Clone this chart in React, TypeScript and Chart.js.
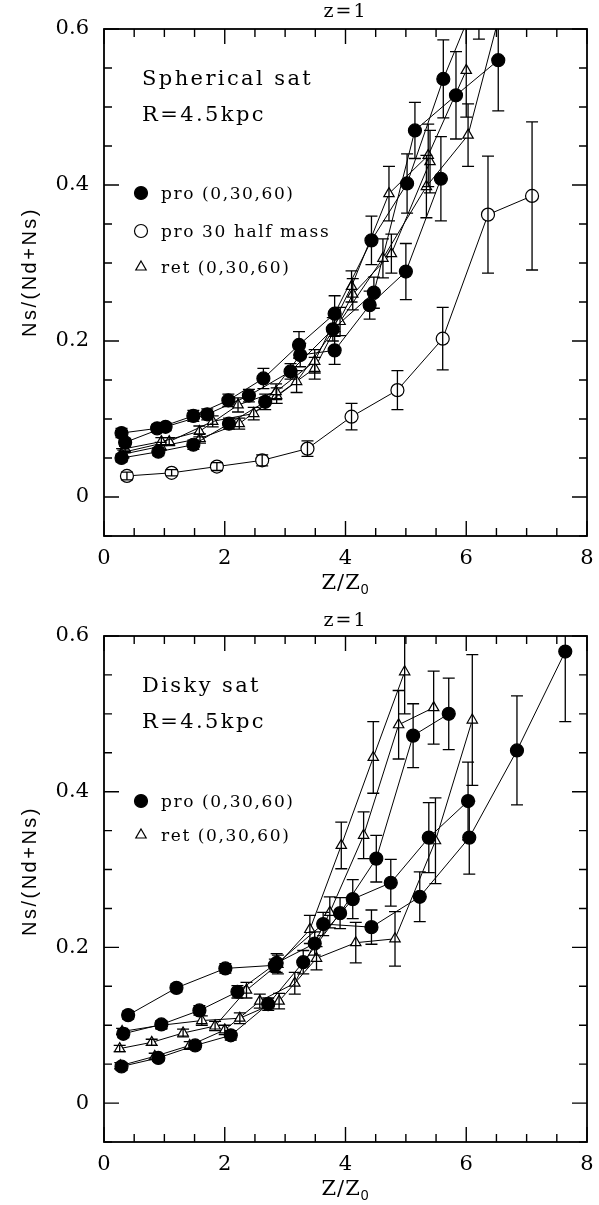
import React, { useEffect, useRef } from 'react';
import { Chart, registerables } from 'chart.js';
Chart.register(...registerables);

// ---------- axis definitions ----------
const X_MIN = 0;
const X_MAX = 8;
const Y_MIN = -0.05;
const Y_MAX = 0.6;
const X_TICKS = [0, 2, 4, 6, 8];
const Y_TICKS = [0, 0.2, 0.4, 0.6];
const X_MINOR = 0.5;
const Y_MINOR = 0.05;

// ---------- top panel: spherical satellite ----------
const sphProA_x = [0.29, 0.88, 1.48, 2.06, 2.64, 3.23, 3.82, 4.43, 5.02, 5.62, 6.21];
const sphProA_y = [0.082, 0.088, 0.104, 0.124, 0.152, 0.195, 0.235, 0.329, 0.402, 0.536, 0.647];
const sphProA_e = [0.006, 0.005, 0.007, 0.008, 0.013, 0.017, 0.023, 0.031, 0.038, 0.05, 0.06];

const sphProB_x = [0.35, 1.02, 1.71, 2.4, 3.09, 3.79, 4.47, 5.15, 5.83, 6.53];
const sphProB_y = [0.07, 0.09, 0.106, 0.13, 0.161, 0.215, 0.262, 0.47, 0.515, 0.56];
const sphProB_e = [0.005, 0.005, 0.007, 0.008, 0.01, 0.015, 0.02, 0.036, 0.056, 0.065];

const sphProC_x = [0.29, 0.9, 1.48, 2.07, 2.67, 3.25, 3.82, 4.4, 5.0, 5.58];
const sphProC_y = [0.05, 0.058, 0.067, 0.094, 0.122, 0.182, 0.188, 0.246, 0.289, 0.408];
const sphProC_e = [0.005, 0.005, 0.006, 0.007, 0.01, 0.015, 0.018, 0.018, 0.036, 0.054];

const sphHalf_x = [0.38, 1.12, 1.87, 2.62, 3.37, 4.1, 4.86, 5.61, 6.36, 7.09];
const sphHalf_y = [0.027, 0.031, 0.039, 0.047, 0.062, 0.103, 0.137, 0.203, 0.362, 0.386];
const sphHalf_e = [0.005, 0.004, 0.005, 0.007, 0.01, 0.017, 0.025, 0.04, 0.075, 0.095];

const sphRetA_x = [0.35, 0.95, 1.58, 2.22, 2.85, 3.49, 4.1, 4.72, 5.37, 6.0];
const sphRetA_y = [0.062, 0.071, 0.084, 0.118, 0.135, 0.174, 0.27, 0.389, 0.438, 0.547];
const sphRetA_e = [0.005, 0.005, 0.007, 0.009, 0.01, 0.015, 0.02, 0.035, 0.04, 0.06];

const sphRetB_x = [0.3, 1.08, 1.8, 2.48, 3.19, 3.91, 4.62, 5.34, 6.03, 6.75];
const sphRetB_y = [0.057, 0.071, 0.097, 0.107, 0.148, 0.225, 0.306, 0.398, 0.464, 0.677];
const sphRetB_e = [0.005, 0.005, 0.007, 0.008, 0.014, 0.018, 0.025, 0.04, 0.04, 0.07];

const sphRetC_x = [0.32, 0.94, 1.59, 2.24, 2.86, 3.49, 4.12, 4.76, 5.4];
const sphRetC_y = [0.055, 0.065, 0.075, 0.094, 0.13, 0.165, 0.26, 0.312, 0.43];
const sphRetC_e = [0.005, 0.005, 0.006, 0.007, 0.01, 0.014, 0.02, 0.025, 0.04];

// ---------- bottom panel: disky satellite ----------
const dskProA_x = [0.4, 1.2, 2.01, 2.83, 3.63, 4.43, 5.23, 6.05, 6.84, 7.64];
const dskProA_y = [0.113, 0.148, 0.173, 0.177, 0.23, 0.226, 0.265, 0.341, 0.453, 0.58];
const dskProA_e = [0.005, 0.005, 0.006, 0.008, 0.015, 0.022, 0.032, 0.047, 0.07, 0.09];

const dskProB_x = [0.32, 0.95, 1.58, 2.21, 2.86, 3.49, 4.12, 4.75, 5.38, 6.03];
const dskProB_y = [0.089, 0.101, 0.119, 0.143, 0.18, 0.205, 0.262, 0.283, 0.341, 0.388];
const dskProB_e = [0.005, 0.005, 0.006, 0.008, 0.012, 0.015, 0.025, 0.03, 0.045, 0.05];

const dskProC_x = [0.29, 0.9, 1.51, 2.1, 2.72, 3.3, 3.91, 4.51, 5.12, 5.71];
const dskProC_y = [0.047, 0.058, 0.074, 0.087, 0.127, 0.181, 0.244, 0.314, 0.472, 0.5];
const dskProC_e = [0.005, 0.004, 0.005, 0.006, 0.008, 0.015, 0.02, 0.03, 0.041, 0.046];

const dskRetA_x = [0.26, 0.79, 1.31, 1.84, 2.36, 2.88, 3.41, 3.93, 4.46, 4.98];
const dskRetA_y = [0.07, 0.078, 0.09, 0.099, 0.145, 0.178, 0.223, 0.331, 0.444, 0.554];
const dskRetA_e = [0.004, 0.004, 0.005, 0.006, 0.01, 0.012, 0.018, 0.03, 0.046, 0.054];

const dskRetB_x = [0.3, 0.95, 1.62, 2.25, 2.9, 3.52, 4.17, 4.82, 5.49, 6.1];
const dskRetB_y = [0.092, 0.1, 0.106, 0.109, 0.131, 0.186, 0.206, 0.211, 0.337, 0.492];
const dskRetB_e = [0.004, 0.005, 0.006, 0.007, 0.01, 0.015, 0.026, 0.035, 0.055, 0.084];

const dskRetC_x = [0.27, 0.84, 1.42, 2.0, 2.58, 3.16, 3.74, 4.3, 4.88, 5.46];
const dskRetC_y = [0.048, 0.06, 0.074, 0.094, 0.131, 0.154, 0.245, 0.344, 0.486, 0.508];
const dskRetC_e = [0.004, 0.004, 0.005, 0.006, 0.009, 0.014, 0.02, 0.03, 0.044, 0.047];

// ---------- texts ----------
const PANEL_TITLE = 'z=1';
const Y_TITLE = 'Ns/(Nd+Ns)';
const X_TITLE_MAIN = 'Z/Z';
const X_TITLE_SUB = '0';
const TOP_LABELS = ['Spherical sat', 'R=4.5kpc'];
const BOT_LABELS = ['Disky sat', 'R=4.5kpc'];
const TOP_LEGEND = [
  { kind: 'filled', text: 'pro (0,30,60)' },
  { kind: 'open', text: 'pro 30 half mass' },
  { kind: 'tri', text: 'ret (0,30,60)' },
];
const BOT_LEGEND = [
  { kind: 'filled', text: 'pro (0,30,60)' },
  { kind: 'tri', text: 'ret (0,30,60)' },
];

const SERIF = '"DejaVu Serif"';
const SANS = '"Liberation Sans"';

function series(xs: number[], ys: number[], errs: number[], kind: string) {
  return {
    data: xs.map((x, i) => ({ x, y: ys[i] })),
    errs,
    showLine: true,
    borderColor: '#000',
    borderWidth: 1,
    tension: 0,
    pointStyle: kind === 'tri' ? 'triangle' : 'circle',
    pointRadius: kind === 'tri' ? 6 : 6.5,
    pointHoverRadius: kind === 'tri' ? 6 : 6.5,
    pointBackgroundColor: kind === 'filled' ? '#000' : '#fff',
    pointBorderColor: '#000',
    pointBorderWidth: 1.2,
  };
}

function drawMarker(ctx: CanvasRenderingContext2D, kind: string, x: number, y: number) {
  ctx.save();
  ctx.strokeStyle = '#000';
  ctx.lineWidth = 1.2;
  ctx.beginPath();
  if (kind === 'tri') {
    const r = 6;
    ctx.moveTo(x, y - r);
    ctx.lineTo(x + r * Math.sin(Math.PI / 3), y + r / 2);
    ctx.lineTo(x - r * Math.sin(Math.PI / 3), y + r / 2);
    ctx.closePath();
    ctx.fillStyle = '#fff';
  } else {
    ctx.arc(x, y, 6.5, 0, Math.PI * 2);
    ctx.fillStyle = kind === 'filled' ? '#000' : '#fff';
  }
  ctx.fill();
  ctx.stroke();
  ctx.restore();
}

function text(ctx: CanvasRenderingContext2D, s: string, x: number, y: number, font: string, spacing = '0px', align: CanvasTextAlign = 'left', base: CanvasTextBaseline = 'alphabetic') {
  ctx.save();
  ctx.font = font;
  ctx.fillStyle = '#000';
  ctx.textAlign = align;
  ctx.textBaseline = base;
  (ctx as any).letterSpacing = spacing;
  ctx.fillText(s, x, y);
  ctx.restore();
}

const decorPlugin = {
  id: 'decor',
  afterDatasetsDraw(chart: any) {
    const ctx: CanvasRenderingContext2D = chart.ctx;
    const xs = chart.scales.x;
    const ys = chart.scales.y;
    const a = chart.chartArea;
    ctx.save();
    ctx.beginPath();
    ctx.rect(a.left, a.top, a.right - a.left, a.bottom - a.top);
    ctx.clip();
    ctx.strokeStyle = '#000';
    ctx.lineWidth = 1.3;
    chart.data.datasets.forEach((ds: any) => {
      ds.data.forEach((p: any, i: number) => {
        const e = ds.errs[i];
        const px = xs.getPixelForValue(p.x);
        const y1 = ys.getPixelForValue(p.y + e);
        const y2 = ys.getPixelForValue(p.y - e);
        ctx.beginPath();
        ctx.moveTo(px, y1);
        ctx.lineTo(px, y2);
        ctx.moveTo(px - 6, y1);
        ctx.lineTo(px + 6, y1);
        ctx.moveTo(px - 6, y2);
        ctx.lineTo(px + 6, y2);
        ctx.stroke();
      });
    });
    ctx.restore();
  },
  afterDraw(chart: any) {
    const ctx: CanvasRenderingContext2D = chart.ctx;
    const xs = chart.scales.x;
    const ys = chart.scales.y;
    const a = chart.chartArea;
    const cfg = chart.options.plugins.decor;
    ctx.save();
    ctx.strokeStyle = '#000';
    ctx.lineWidth = 1.8;
    ctx.strokeRect(a.left, a.top, a.right - a.left, a.bottom - a.top);
    ctx.lineWidth = 1.4;
    ctx.beginPath();
    const nx = Math.round((X_MAX - X_MIN) / X_MINOR);
    for (let k = 0; k <= nx; k++) {
      const v = X_MIN + k * X_MINOR;
      const px = xs.getPixelForValue(v);
      const major = X_TICKS.some((t) => Math.abs(t - v) < 1e-9);
      const len = major ? 15 : 8;
      ctx.moveTo(px, a.bottom);
      ctx.lineTo(px, a.bottom - len);
      ctx.moveTo(px, a.top);
      ctx.lineTo(px, a.top + len);
    }
    const ny = Math.round((Y_MAX - Y_MIN) / Y_MINOR);
    for (let k = 0; k <= ny; k++) {
      const v = Y_MIN + k * Y_MINOR;
      const py = ys.getPixelForValue(v);
      const major = Y_TICKS.some((t) => Math.abs(t - v) < 1e-9);
      const len = major ? 15 : 8;
      ctx.moveTo(a.left, py);
      ctx.lineTo(a.left + len, py);
      ctx.moveTo(a.right, py);
      ctx.lineTo(a.right - len, py);
    }
    ctx.stroke();
    ctx.restore();

    const cx = (a.left + a.right) / 2;
    // panel title
    text(ctx, PANEL_TITLE, cx, cfg.titleY, `19px ${SERIF}`, '2px', 'center', 'middle');
    // x title with subscript
    ctx.save();
    ctx.font = `21px ${SERIF}`;
    (ctx as any).letterSpacing = '1px';
    const w1 = ctx.measureText(X_TITLE_MAIN).width;
    ctx.font = `14px ${SANS}`;
    const w2 = ctx.measureText(X_TITLE_SUB).width;
    ctx.restore();
    const sx = cx - (w1 + w2) / 2;
    text(ctx, X_TITLE_MAIN, sx, cfg.xTitleBase, `21px ${SERIF}`, '1px');
    text(ctx, X_TITLE_SUB, sx + w1, cfg.xTitleBase + 5, `14px ${SANS}`);
    // y title
    ctx.save();
    ctx.translate(30, cfg.yTitleY);
    ctx.rotate(-Math.PI / 2);
    text(ctx, Y_TITLE, 0, 0, `20px ${SANS}`, '2.5px', 'center', 'middle');
    ctx.restore();
    // labels inside
    text(ctx, cfg.labels[0], a.left + 38, a.top + 56, `21px ${SERIF}`, '2.4px');
    text(ctx, cfg.labels[1], a.left + 38, a.top + 92, `21px ${SERIF}`, '2.4px');
    // legend
    cfg.legend.forEach((item: any, i: number) => {
      const yy = a.top + cfg.legendRows[i];
      drawMarker(ctx, item.kind, a.left + 37, yy);
      text(ctx, item.text, a.left + 57, yy + 6, `17px ${SERIF}`, '1.6px');
    });
  },
};

function makeConfig(datasets: any[], panel: any) {
  return {
    type: 'scatter',
    data: { datasets },
    plugins: [decorPlugin],
    options: {
      responsive: false,
      animation: false,
      events: [],
      layout: { padding: { top: panel.padTop, right: 12, left: 0, bottom: 0 } },
      plugins: {
        legend: { display: false },
        tooltip: { enabled: false },
        title: { display: false },
        decor: panel,
      },
      scales: {
        x: {
          type: 'linear',
          min: X_MIN,
          max: X_MAX,
          grid: { display: false, drawTicks: false },
          border: { display: false },
          afterBuildTicks: (s: any) => {
            s.ticks = X_TICKS.map((v) => ({ value: v }));
          },
          afterFit: (s: any) => {
            s.height = panel.xAxisH;
            s.paddingLeft = 0;
            s.paddingRight = 0;
          },
          ticks: {
            padding: 10,
            color: '#000',
            autoSkip: false,
            maxRotation: 0,
            font: { family: 'DejaVu Serif', size: 21 },
            callback: (v: any) => String(v),
          },
        },
        y: {
          type: 'linear',
          min: Y_MIN,
          max: Y_MAX,
          grid: { display: false, drawTicks: false },
          border: { display: false },
          afterBuildTicks: (s: any) => {
            s.ticks = Y_TICKS.map((v) => ({ value: v }));
          },
          afterFit: (s: any) => {
            s.width = 104;
            s.paddingTop = 0;
            s.paddingBottom = 0;
          },
          ticks: {
            padding: 15,
            color: '#000',
            autoSkip: false,
            font: { family: 'DejaVu Serif', size: 21 },
            callback: (v: any) => (Math.abs(v) < 1e-9 ? '0' : Number(v).toFixed(1)),
          },
        },
      },
    },
  };
}

function Panel({ height, datasets, panel }: { height: number; datasets: any[]; panel: any }) {
  const ref = useRef<HTMLCanvasElement>(null);
  useEffect(() => {
    if (!ref.current) return;
    const chart = new Chart(ref.current, makeConfig(datasets, panel) as any);
    return () => chart.destroy();
  }, []);
  return <canvas ref={ref} width={599} height={height} style={{ display: 'block', width: 599, height }} />;
}

export default function App() {
  const topSets = [
    series(sphProA_x, sphProA_y, sphProA_e, 'filled'),
    series(sphProB_x, sphProB_y, sphProB_e, 'filled'),
    series(sphProC_x, sphProC_y, sphProC_e, 'filled'),
    series(sphHalf_x, sphHalf_y, sphHalf_e, 'open'),
    series(sphRetA_x, sphRetA_y, sphRetA_e, 'tri'),
    series(sphRetB_x, sphRetB_y, sphRetB_e, 'tri'),
    series(sphRetC_x, sphRetC_y, sphRetC_e, 'tri'),
  ];
  const botSets = [
    series(dskProA_x, dskProA_y, dskProA_e, 'filled'),
    series(dskProB_x, dskProB_y, dskProB_e, 'filled'),
    series(dskProC_x, dskProC_y, dskProC_e, 'filled'),
    series(dskRetA_x, dskRetA_y, dskRetA_e, 'tri'),
    series(dskRetB_x, dskRetB_y, dskRetB_e, 'tri'),
    series(dskRetC_x, dskRetC_y, dskRetC_e, 'tri'),
  ];
  const topPanel = {
    padTop: 29,
    xAxisH: 69,
    titleY: 12,
    xTitleBase: 589,
    yTitleY: 272,
    labels: TOP_LABELS,
    legend: TOP_LEGEND,
    legendRows: [164, 202, 238],
  };
  const botPanel = {
    padTop: 31,
    xAxisH: 63,
    titleY: 16,
    xTitleBase: 590,
    yTitleY: 266,
    labels: BOT_LABELS,
    legend: BOT_LEGEND,
    legendRows: [165, 199],
  };
  return (
    <div style={{ position: 'absolute', left: 0, top: 0, width: 599, height: 1205, background: '#fff' }}>
      <Panel height={605} datasets={topSets} panel={topPanel} />
      <Panel height={600} datasets={botSets} panel={botPanel} />
    </div>
  );
}
